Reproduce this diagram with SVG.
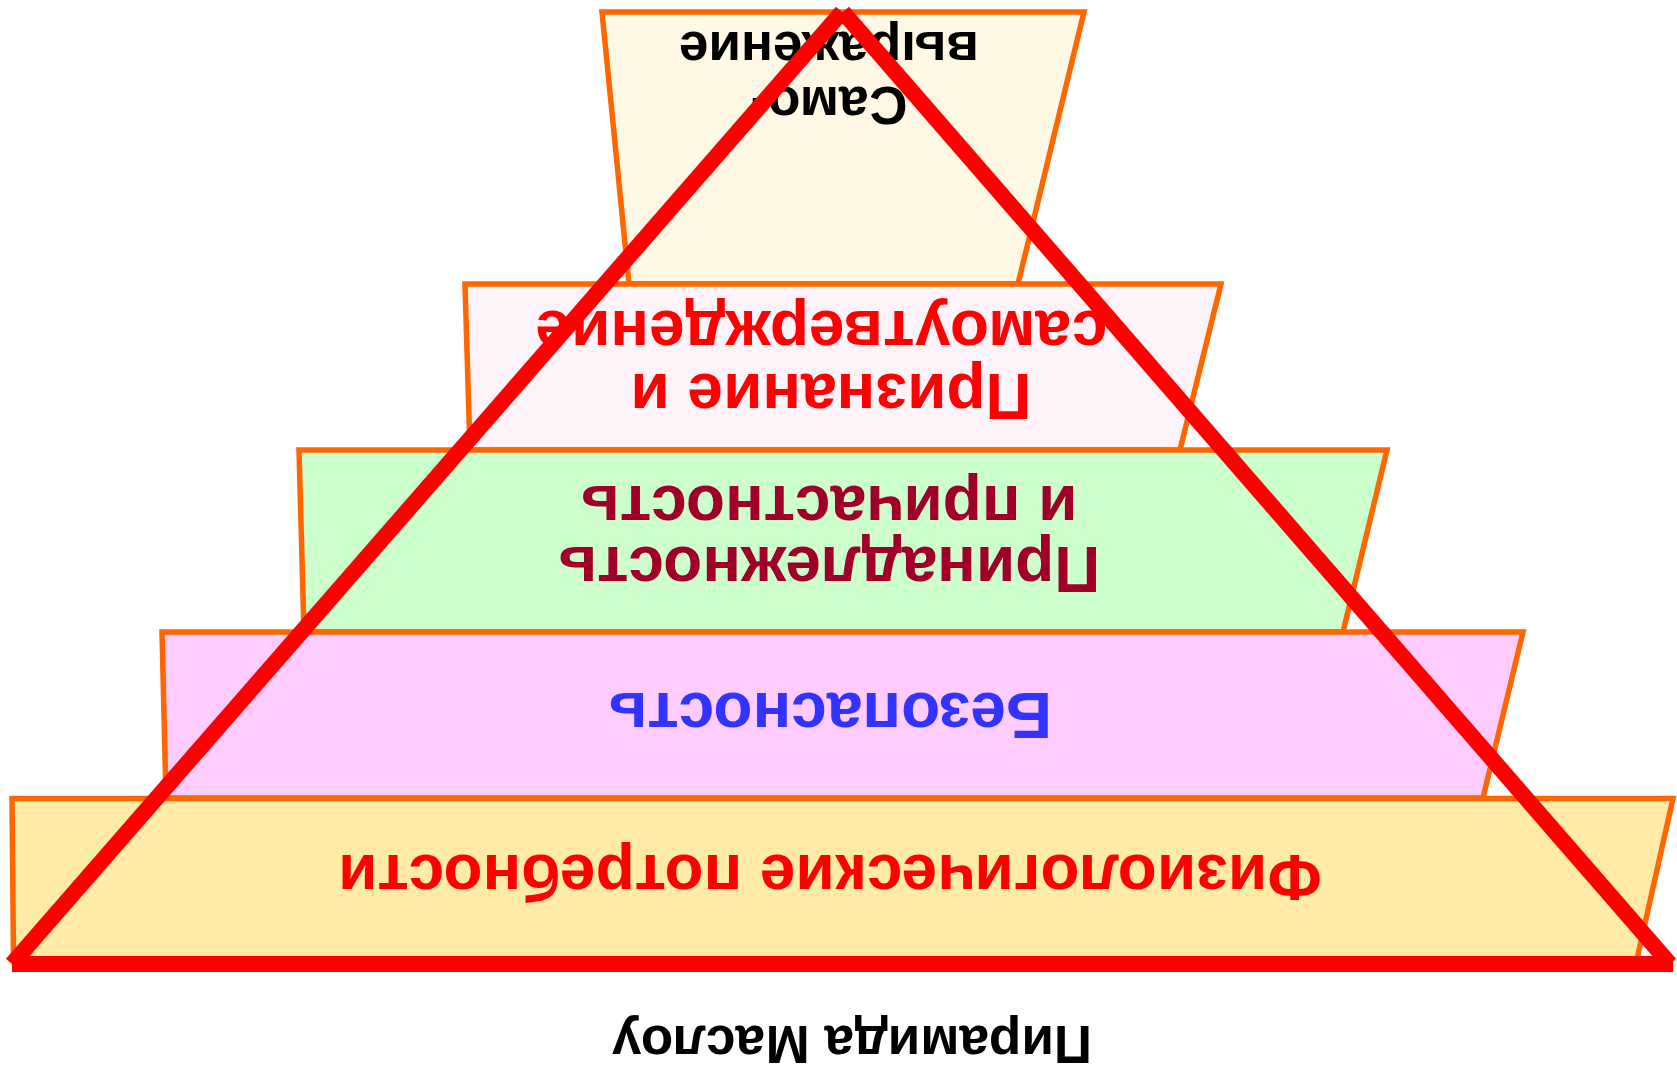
<svg xmlns="http://www.w3.org/2000/svg" width="1677" height="1069" viewBox="0 0 1677 1069">
<style>
.layer{stroke:#FF6600;stroke-width:5.5;stroke-linejoin:miter}
.t{font-family:"Liberation Sans",Arial,sans-serif;font-weight:bold;text-anchor:middle}
.edge{stroke:#FF0000;stroke-width:16;stroke-linecap:butt;fill:none}
</style>
<rect width="1677" height="1069" fill="#FFFFFF"/>
<g id="layer1">
<polygon class="layer" fill="#FEF8E4" points="602,12 1084,12 1018,284 629,284"/>
<text class="t" font-size="53" fill="#000000" transform="translate(829 0) rotate(180)"><tspan x="0" y="-87">Само-</tspan><tspan x="0" y="-32">выражение</tspan></text>
</g>
<g id="layer2">
<polygon class="layer" fill="#FFF3FA" points="465,284 1221,284 1180,450 470,450"/>
<text class="t" font-size="64" fill="#FF0000" transform="translate(831 0) rotate(180)"><tspan x="0" y="-374">Признание и</tspan><tspan x="9.5" y="-311">самоутверждение</tspan></text>
</g>
<g id="layer3">
<polygon class="layer" fill="#CCFFCC" points="299,450 1387,450 1343,632 304,632"/>
<text class="t" font-size="64" fill="#A00028" transform="translate(829 0) rotate(180)"><tspan x="0" y="-547">Принадлежность</tspan><tspan x="0" y="-486">и причастность</tspan></text>
</g>
<g id="layer4">
<polygon class="layer" fill="#FFCCFF" points="162,632 1523,632 1483,798 166,798"/>
<text class="t" font-size="64" fill="#3333FF" transform="translate(830 0) rotate(180)" x="0" y="-693">Безопасность</text>
</g>
<g id="layer5">
<polygon class="layer" fill="#FFEAA6" points="12,798.5 1673,798.5 1637,959 13.5,959"/>
<text class="t" font-size="64" fill="#FF0000" transform="translate(830 0) rotate(180)" x="0" y="-855">Физиологические потребности</text>
</g>
<g id="connectors">
<line class="edge" x1="12" y1="964" x2="842" y2="12"/>
<line class="edge" x1="843" y1="12" x2="1670" y2="964"/>
<line class="edge" x1="12" y1="964" x2="1673" y2="964"/>
</g>
<g id="caption">
<text class="t" font-size="53" fill="#000000" transform="translate(852 0) rotate(180)" x="0" y="-1026">Пирамида Маслоу</text>
</g>
</svg>
